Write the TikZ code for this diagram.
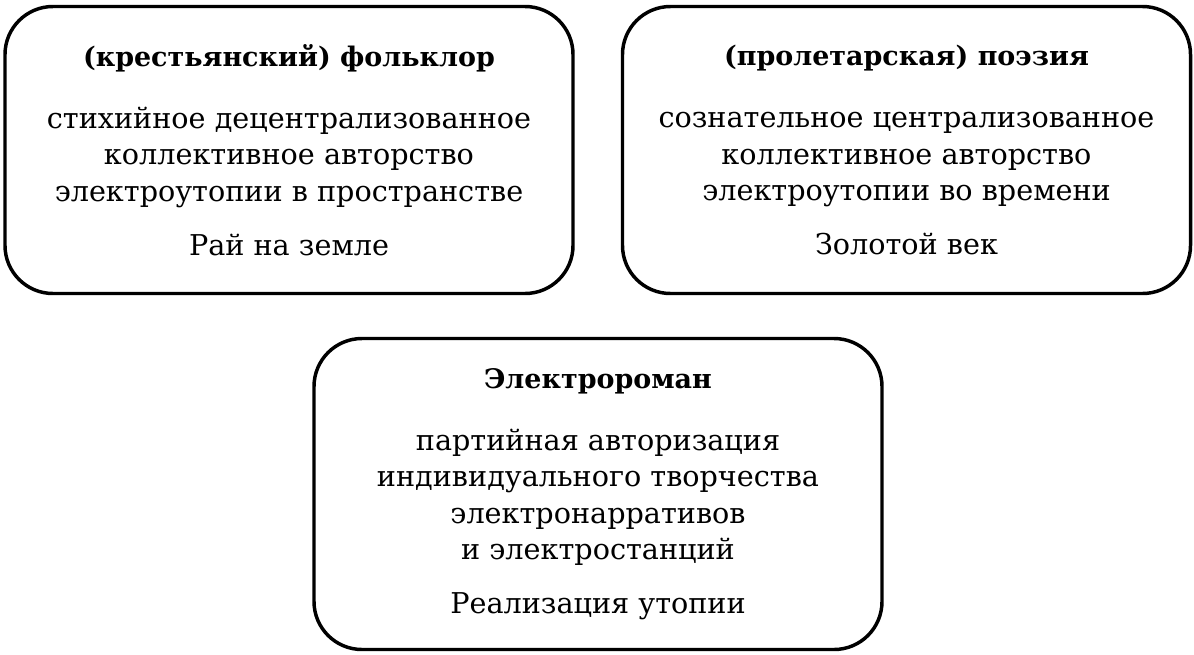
\documentclass[tikz,border=0pt]{standalone}
\usepackage{fontspec}
\setmainfont{DejaVu Serif}

\tikzset{
  box/.style={draw, line width=2.6pt, rounded corners=36pt, align=center,
    minimum width=426pt, inner sep=0pt,
    font=\fontsize{21.5}{27.4}\selectfont}
}
\newcommand{\boxtitle}[1]{{\fontsize{20.2}{27.4}\selectfont\bfseries #1}}

\begin{document}
\begin{tikzpicture}[x=0.75pt, y=-0.75pt]
    % keep the page as large as the reference
    \useasboundingbox (0,0) rectangle (1194,654);
    % upper left box
    \node [box, minimum height=215.25pt] (folk) at (289,150)
      {\boxtitle{(крестьянский) фольклор}\\[19pt]
       стихийное децентрализованное\\
       коллективное авторство\\
       электроутопии в пространстве\\[13pt]
       Рай на земле};
    % upper right box
    \node [box, minimum height=215.25pt] (poetry) at (906.5,150)
      {\boxtitle{(пролетарская) поэзия}\\[19pt]
       сознательное централизованное\\
       коллективное авторство\\
       электроутопии во времени\\[13pt]
       Золотой век};
    % lower box
    \node [box, minimum height=233.25pt] (novel) at (598,494)
      {\boxtitle{Электророман}\\[19pt]
       партийная авторизация\\
       индивидуального творчества\\
       электронарративов\\
       и электростанций\\[13pt]
       Реализация утопии};
\end{tikzpicture}
\end{document}
